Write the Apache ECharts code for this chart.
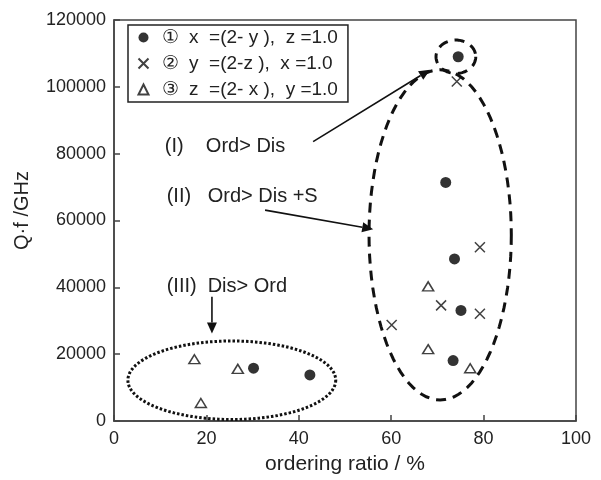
<!DOCTYPE html>
<html>
<head>
<meta charset="utf-8">
<script src="https://cdn.jsdelivr.net/npm/echarts@6/dist/echarts.min.js"></script>
<style>
  html, body { margin: 0; padding: 0; background: #fff; }
  #chart { width: 601px; height: 480px; }
</style>
</head>
<body>
<div id="chart"></div>
<script>
// 数据：ordering ratio (%) 与 Q·f (GHz)
const seriesNames = [
  "①  x  =(2- y ),  z =1.0",
  "②  y  =(2-z ),  x =1.0",
  "③  z  =(2- x ),  y =1.0",
];
const circlePts = [[74.5, 109000], [71.8, 71400], [73.7, 48500], [75.1, 33100], [73.4, 18100], [30.2, 15800], [42.4, 13800]];
const crossPts = [[74.2, 101600], [79.2, 52000], [70.8, 34600], [79.2, 32100], [60.1, 28700]];
const trianglePts = [[68.0, 40300], [68.0, 21500], [77.1, 15800], [17.4, 18500], [26.8, 15600], [18.8, 5400]];

// 椭圆标注：[cx, cy, rx, ry, style]  (style 0 = dashed, 1 = dotted)
const ellipses = [[74.0, 109000, 4.3, 5000, 0], [70.6, 55700, 15.4, 49400, 0], [25.5, 12200, 22.5, 11750, 1]];
// 箭头：[x1, y1, x2, y2]
const arrows = [[43.1, 83600, 68.4, 105100], [32.7, 63100, 56.1, 57400], [21.2, 37200, 21.2, 26200]];
// 文字标注：[label, text, x, y]
const notes = [["(I)", "Ord> Dis", 11.0, 82200], ["(II)", "Ord> Dis +S", 11.4, 67300], ["(III)", "Dis> Ord", 11.4, 40200]];

const FONT = "Liberation Sans, Arial, sans-serif";
const chart = echarts.init(document.getElementById("chart"), null, { renderer: "canvas" });

const renderEllipse = (params, api) => {
  const c = api.coord([api.value(0), api.value(1)]);
  const s = api.size([api.value(2), api.value(3)]);
  const pts = [];
  for (let i = 0; i < 96; i++) {
    const t = (i / 96) * Math.PI * 2;
    pts.push([c[0] + s[0] * Math.cos(t), c[1] + s[1] * Math.sin(t)]);
  }
  const dotted = api.value(4) === 1;
  return {
    type: "polygon",
    shape: { points: pts },
    style: { fill: "none", stroke: "#111", lineWidth: 3, lineDash: dotted ? [2.5, 2] : [10, 7] },
  };
};

const renderArrow = (params, api) => {
  const a = api.coord([api.value(0), api.value(1)]);
  const b = api.coord([api.value(2), api.value(3)]);
  const ang = Math.atan2(b[1] - a[1], b[0] - a[0]);
  const L = 11, W = 5;
  const bx = b[0] - L * Math.cos(ang), by = b[1] - L * Math.sin(ang);
  const nx = -Math.sin(ang) * W, ny = Math.cos(ang) * W;
  return {
    type: "group",
    children: [
      { type: "line", shape: { x1: a[0], y1: a[1], x2: bx, y2: by }, style: { stroke: "#111", lineWidth: 1.6 } },
      { type: "polygon", shape: { points: [[b[0], b[1]], [bx + nx, by + ny], [bx - nx, by - ny]] }, style: { fill: "#111" } },
    ],
  };
};

const renderNote = (params, api) => {
  const n = notes[params.dataIndex];
  const p = api.coord([n[2], n[3]]);
  return {
    type: "group",
    children: [
      { type: "text", x: p[0], y: p[1], style: { text: n[0], font: "20px " + FONT, fill: "#222", verticalAlign: "middle" } },
      { type: "text", x: p[0] + 41, y: p[1], style: { text: n[1], font: "20px " + FONT, fill: "#222", verticalAlign: "middle" } },
    ],
  };
};

const option = {
  animation: false,
  grid: { left: 114, right: 25, top: 20, bottom: 57, show: true, borderColor: "#444", borderWidth: 1.5 },
  legend: {
    orient: "vertical",
    left: 128,
    top: 25,
    data: seriesNames,
    backgroundColor: "#fff",
    borderColor: "#222",
    borderWidth: 1.5,
    borderRadius: 0,
    padding: [3, 10, 3, 8],
    itemGap: 7,
    itemWidth: 10,
    itemHeight: 10,
    textStyle: { fontFamily: FONT, fontSize: 19, color: "#222", padding: [0, 0, 0, 8] },
  },
  xAxis: {
    type: "value", min: 0, max: 100, interval: 20,
    name: "ordering ratio / %", nameLocation: "middle", nameGap: 33,
    nameTextStyle: { fontFamily: FONT, fontSize: 21, color: "#222" },
    axisLine: { lineStyle: { color: "#444", width: 1.5 } },
    axisTick: { inside: true, length: 6, lineStyle: { color: "#444", width: 1.5 } },
    axisLabel: { fontFamily: FONT, fontSize: 18, color: "#222", margin: 9 },
    splitLine: { show: false },
  },
  yAxis: {
    type: "value", min: 0, max: 120000, interval: 20000,
    name: "Q·f /GHz", nameLocation: "middle", nameGap: 82,
    nameTextStyle: { fontFamily: FONT, fontSize: 20, color: "#222", padding: [0, 0, 0, 20] },
    axisLine: { lineStyle: { color: "#444", width: 1.5 } },
    axisTick: { inside: true, length: 6, lineStyle: { color: "#444", width: 1.5 } },
    axisLabel: { fontFamily: FONT, fontSize: 18, color: "#222", margin: 8, formatter: (v) => String(v) },
    splitLine: { show: false },
  },
  series: [
    { name: seriesNames[0], type: "scatter", data: circlePts, symbol: "circle", symbolSize: 11, itemStyle: { color: "#000" }, z: 5 },
    { name: seriesNames[1], type: "scatter", data: crossPts, symbol: "path://M0,0L10,10M10,0L0,10", symbolSize: 10,
      itemStyle: { color: "none", borderColor: "#111", borderWidth: 1.5 }, z: 5 },
    { name: seriesNames[2], type: "scatter", data: trianglePts, symbol: "triangle", symbolSize: [11, 9],
      itemStyle: { color: "#fff", borderColor: "#111", borderWidth: 1.5 }, z: 5 },
    { type: "custom", data: ellipses, renderItem: renderEllipse, silent: true, clip: false, z: 3 },
    { type: "custom", data: arrows, renderItem: renderArrow, silent: true, clip: false, z: 4 },
    { type: "custom", data: notes.map((n) => [n[2], n[3]]), renderItem: renderNote, silent: true, clip: false, z: 4 },
  ],
};
chart.setOption(option);
</script>
</body>
</html>
